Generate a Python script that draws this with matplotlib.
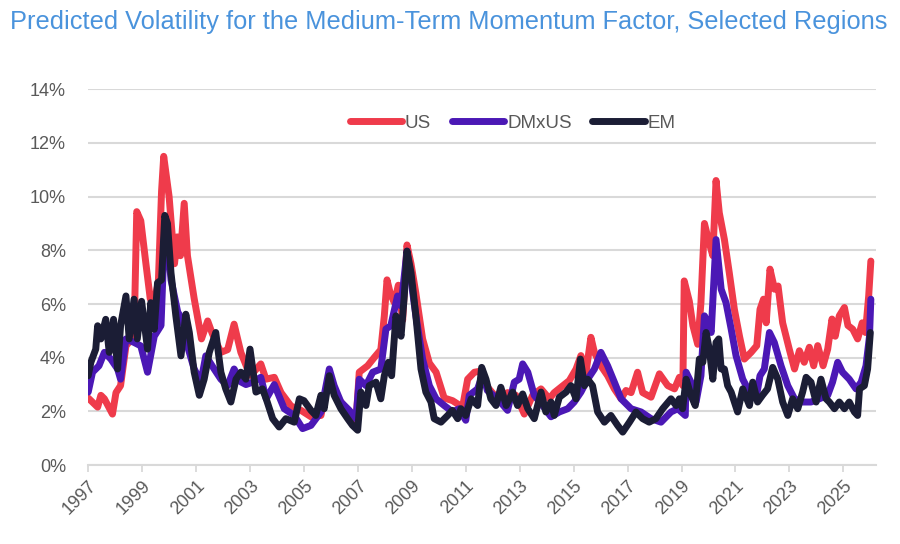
import matplotlib.pyplot as plt
import numpy as np

# US (red)
us_t = [1997.0, 1997.35, 1997.47, 1997.6, 1997.9, 1998.03, 1998.2, 1998.4, 1998.7, 1998.8,
        1998.95, 1999.14, 1999.3, 1999.42, 1999.6, 1999.72, 1999.8, 2000.0, 2000.2, 2000.3,
        2000.42, 2000.56, 2000.68, 2000.93, 2001.2, 2001.43, 2001.6, 2001.92, 2002.17, 2002.41,
        2002.66, 2002.9, 2003.03, 2003.4, 2003.59, 2003.9, 2004.15, 2004.52, 2004.89, 2005.26,
        2005.63, 2005.94, 2006.25, 2006.62, 2006.93, 2007.05, 2007.36, 2007.6, 2007.85, 2007.98,
        2008.08, 2008.2, 2008.35, 2008.5, 2008.66, 2008.82, 2008.97, 2009.15, 2009.4, 2009.65,
        2009.9, 2010.2, 2010.51, 2010.88, 2011.07, 2011.32, 2011.56, 2011.81, 2012.18, 2012.55,
        2012.86, 2013.17, 2013.48, 2013.79, 2014.1, 2014.28, 2014.53, 2014.84, 2015.09, 2015.27,
        2015.46, 2015.64, 2015.77, 2016.01, 2016.26, 2016.51, 2016.76, 2016.94, 2017.13, 2017.37,
        2017.56, 2017.87, 2018.18, 2018.49, 2018.74, 2018.92, 2019.05, 2019.1, 2019.29, 2019.42,
        2019.6, 2019.72, 2019.85, 2020.01, 2020.16, 2020.28, 2020.4, 2020.59, 2020.77, 2020.96,
        2021.15, 2021.33, 2021.58, 2021.79, 2021.91, 2022.04, 2022.14, 2022.28, 2022.45, 2022.58,
        2022.75, 2023.0, 2023.19, 2023.37, 2023.55, 2023.74, 2023.9, 2024.05, 2024.25, 2024.42,
        2024.58, 2024.7, 2024.85, 2025.04, 2025.17, 2025.35, 2025.53, 2025.7, 2025.82, 2025.94,
        2026.02]
us_v = [2.5, 2.16, 2.6, 2.47, 1.9, 2.7, 2.96, 4.44, 4.8, 9.44,
        9.1, 7.5, 6.2, 6.0, 6.8, 10.2, 11.5, 10.0, 7.5, 8.5,
        7.8, 9.75, 7.8, 6.2, 4.7, 5.37, 4.9, 4.2, 4.3, 5.25,
        4.2, 3.6, 3.34, 3.77, 3.2, 3.27, 2.7, 2.2, 2.04, 1.8,
        1.85, 3.3, 2.5, 2.04, 1.6, 3.46, 3.7, 4.0, 4.3, 5.56,
        6.9, 6.4, 6.05, 6.7, 5.4, 8.2, 7.5, 6.4, 4.7, 3.8,
        3.46, 2.5, 2.4, 2.16, 3.2, 3.46, 3.5, 2.9, 2.47, 2.7,
        2.6, 1.9, 2.6, 2.84, 2.47, 2.7, 2.9, 3.15, 3.58, 4.08,
        3.46, 4.76, 4.2, 3.7, 3.33, 2.84, 2.47, 2.78, 2.7, 3.46,
        2.7, 2.53, 3.4, 2.96, 2.84, 3.27, 2.96, 6.86, 6.1, 5.2,
        4.5, 6.05, 9.0, 8.34, 7.8, 10.6, 9.4, 8.4, 7.17, 5.8,
        4.8, 3.95, 4.2, 4.45, 5.8, 6.18, 5.3, 7.3, 6.55, 6.67,
        5.3, 4.3, 3.58, 4.26, 3.83, 4.39, 3.7, 4.45, 3.7, 4.32,
        5.44, 4.8, 5.56, 5.87, 5.2, 5.06, 4.7, 5.3, 4.94, 6.3,
        7.6]

# DMxUS (purple)
dm_t = [1997.0, 1997.16, 1997.4, 1997.6, 1997.84, 1998.09, 1998.2, 1998.4, 1998.7, 1998.95,
        1999.2, 1999.45, 1999.7, 1999.82, 1999.88, 2000.07, 2000.32, 2000.5, 2000.68, 2000.93,
        2001.18, 2001.36, 2001.67, 2001.92, 2002.17, 2002.41, 2002.66, 2002.85, 2003.1, 2003.4,
        2003.6, 2003.9, 2004.27, 2004.64, 2004.95, 2005.26, 2005.63, 2005.94, 2006.12, 2006.37,
        2006.68, 2006.93, 2007.05, 2007.3, 2007.55, 2007.85, 2008.04, 2008.22, 2008.47, 2008.6,
        2008.82, 2008.97, 2009.15, 2009.4, 2009.65, 2009.9, 2010.2, 2010.51, 2010.75, 2011.0,
        2011.13, 2011.44, 2011.63, 2011.8, 2012.18, 2012.55, 2012.8, 2012.98, 2013.11, 2013.3,
        2013.54, 2013.85, 2014.16, 2014.47, 2014.78, 2015.02, 2015.27, 2015.52, 2015.77, 2016.01,
        2016.26, 2016.51, 2016.76, 2017.13, 2017.5, 2017.87, 2018.24, 2018.61, 2018.86, 2019.14,
        2019.17, 2019.35, 2019.54, 2019.72, 2019.85, 2019.98, 2020.1, 2020.28, 2020.47, 2020.65,
        2020.84, 2021.02, 2021.27, 2021.52, 2021.76, 2021.91, 2022.07, 2022.26, 2022.44, 2022.69,
        2022.94, 2023.19, 2023.49, 2023.8, 2024.11, 2024.42, 2024.6, 2024.79, 2024.97, 2025.22,
        2025.47, 2025.66, 2025.84, 2025.97, 2026.02]
dm_v = [2.72, 3.46, 3.7, 4.2, 3.95, 3.58, 3.2, 4.7, 4.57, 4.44,
        3.46, 4.8, 5.2, 8.4, 9.1, 6.9, 5.7, 5.4, 4.44, 3.58,
        3.1, 4.07, 3.58, 3.2, 2.96, 3.58, 3.1, 3.0, 3.09, 3.27,
        2.47, 3.0, 2.1, 1.85, 1.36, 1.48, 1.98, 3.58, 2.96, 2.35,
        2.04, 1.73, 3.2, 2.96, 3.46, 3.58, 5.07, 5.19, 6.3, 5.93,
        7.97, 6.9, 5.56, 3.95, 2.96, 2.47, 2.22, 1.98, 2.1, 1.67,
        2.6, 2.84, 3.4, 2.78, 2.47, 2.04, 3.09, 3.2, 3.77, 3.46,
        2.6, 2.22, 1.8, 1.98, 2.1, 2.35, 2.72, 3.2, 3.58, 4.2,
        3.7, 3.09, 2.47, 2.1, 1.98, 1.73, 1.6, 1.98, 2.1, 1.85,
        3.46, 3.09, 2.35, 3.33, 5.56, 5.3, 4.94, 8.4, 6.55, 6.05,
        5.07, 4.08, 3.2, 2.72, 2.47, 3.33, 3.58, 4.94, 4.57, 3.7,
        2.96, 2.47, 2.35, 2.35, 2.47, 2.6, 3.09, 3.83, 3.46, 3.2,
        2.84, 3.09, 3.7, 4.8, 6.18]

# EM (black)
em_t = [1997.0, 1997.1, 1997.28, 1997.35, 1997.47, 1997.65, 1997.78, 1997.94, 1998.09, 1998.2,
        1998.4, 1998.52, 1998.7, 1998.82, 1998.98, 1999.2, 1999.32, 1999.45, 1999.57, 1999.72,
        1999.84, 1999.94, 2000.07, 2000.25, 2000.44, 2000.62, 2000.75, 2000.93, 2001.12, 2001.3,
        2001.49, 2001.73, 2001.92, 2002.1, 2002.29, 2002.48, 2002.66, 2002.85, 2003.0, 2003.22,
        2003.46, 2003.6, 2003.84, 2004.08, 2004.33, 2004.64, 2004.83, 2005.0, 2005.26, 2005.44,
        2005.63, 2005.75, 2005.94, 2006.12, 2006.37, 2006.62, 2006.8, 2006.99, 2007.11, 2007.3,
        2007.42, 2007.67, 2007.85, 2007.98, 2008.13, 2008.25, 2008.41, 2008.6, 2008.72, 2008.82,
        2008.97, 2009.15, 2009.34, 2009.52, 2009.71, 2009.83, 2010.08, 2010.33, 2010.5, 2010.7,
        2010.82, 2011.0, 2011.2, 2011.44, 2011.59, 2011.75, 2011.93, 2012.12, 2012.3, 2012.5,
        2012.74, 2012.92, 2013.11, 2013.3, 2013.54, 2013.79, 2013.97, 2014.16, 2014.28, 2014.47,
        2014.72, 2014.9, 2015.09, 2015.25, 2015.4, 2015.52, 2015.7, 2015.89, 2016.14, 2016.38,
        2016.63, 2016.82, 2017.07, 2017.31, 2017.56, 2017.8, 2018.05, 2018.3, 2018.61, 2018.8,
        2018.92, 2019.04, 2019.17, 2019.35, 2019.51, 2019.66, 2019.79, 2019.91, 2020.03, 2020.16,
        2020.28, 2020.38, 2020.47, 2020.59, 2020.71, 2020.84, 2021.08, 2021.27, 2021.52, 2021.64,
        2021.82, 2022.0, 2022.19, 2022.38, 2022.57, 2022.75, 2022.94, 2023.12, 2023.31, 2023.49,
        2023.62, 2023.8, 2023.99, 2024.17, 2024.36, 2024.48, 2024.67, 2024.85, 2025.04, 2025.22,
        2025.41, 2025.53, 2025.6, 2025.78, 2025.9, 2026.0]
em_v = [3.33, 3.83, 4.32, 5.19, 4.7, 5.43, 4.2, 5.43, 3.58, 5.19,
        6.3, 4.7, 6.18, 4.7, 6.1, 4.32, 6.05, 5.06, 6.79, 6.9,
        9.3, 9.0, 7.16, 5.56, 4.07, 5.62, 4.94, 3.46, 2.6, 3.2,
        4.2, 4.94, 3.46, 2.84, 2.35, 3.2, 3.46, 3.2, 4.32, 2.72,
        2.84, 2.47, 1.73, 1.42, 1.73, 1.6, 2.47, 2.4, 2.04, 1.85,
        2.6, 2.1, 3.33, 2.6, 2.1, 1.73, 1.48, 1.3, 2.72, 2.22,
        2.96, 3.09, 2.47, 3.33, 3.83, 3.33, 5.56, 4.8, 6.3, 7.97,
        7.17, 5.56, 3.58, 2.72, 2.35, 1.73, 1.6, 1.85, 2.04, 1.73,
        2.1, 1.85, 2.47, 2.22, 3.64, 3.2, 2.47, 2.22, 2.9, 2.22,
        2.72, 2.22, 2.65, 2.1, 1.73, 2.72, 1.98, 2.35, 1.85, 2.53,
        2.72, 2.96, 2.47, 3.95, 2.96, 3.2, 2.96, 1.98, 1.6, 1.85,
        1.48, 1.23, 1.6, 1.98, 1.73, 1.6, 1.73, 2.1, 2.47, 2.22,
        2.47, 2.1, 3.2, 2.6, 2.22, 3.95, 3.83, 4.94, 4.32, 3.2,
        4.57, 4.7, 3.58, 3.58, 2.96, 2.72, 1.98, 2.84, 2.22, 3.09,
        2.35, 2.6, 2.84, 3.64, 3.2, 2.35, 1.85, 2.47, 2.1, 2.72,
        3.27, 3.09, 2.35, 3.2, 2.47, 2.35, 2.1, 2.35, 2.1, 2.35,
        1.98, 1.85, 2.84, 2.96, 3.58, 4.94]

years = list(range(1997, 2026, 2))

plt.rcParams['font.family'] = ['Liberation Sans', 'DejaVu Sans']
fig = plt.figure(figsize=(9, 5.44), dpi=100)
ax = fig.add_axes([0.098, 0.145, 0.875, 0.691])

grid_c = '#d9d9d9'
txt_c = '#595959'

kw = dict(linewidth=5, solid_capstyle='round', solid_joinstyle='round')
ax.plot(us_t, np.array(us_v) / 100, color='#ef3b4b', label='US', **kw)
ax.plot(dm_t, np.array(dm_v) / 100, color='#4b18b5', label='DMxUS', **kw)
ax.plot(em_t, np.array(em_v) / 100, color='#1b1d35', label='EM', **kw)

ax.set_ylim(0, 0.14)
ax.set_xlim(1997, 2026.2)
yt = np.arange(0, 0.141, 0.02)
ax.set_yticks(yt)
ax.set_yticklabels([f'{int(round(v * 100))}%' for v in yt], fontsize=13, color=txt_c)
ax.set_xticks(years)
ax.set_xticklabels([str(y) for y in years], rotation=45, ha='right',
                   rotation_mode='anchor', fontsize=13, color=txt_c)
ax.tick_params(axis='y', length=0, pad=16)
ax.tick_params(axis='x', length=5, width=1.3, color=grid_c, pad=4)
ax.yaxis.grid(True, color=grid_c, linewidth=1.5)
ax.set_axisbelow(True)
for s in ['top', 'right', 'left']:
    ax.spines[s].set_visible(False)
ax.spines['bottom'].set_color(grid_c)
ax.spines['bottom'].set_linewidth(1.5)

leg = ax.legend(loc='center', bbox_to_anchor=(0.539, 0.91), ncol=3, frameon=False,
                fontsize=13.5, handlelength=2.8, handletextpad=0.15, columnspacing=1.1)
for t in leg.get_texts():
    t.set_color(txt_c)

fig.text(0.011, 0.96, 'Predicted Volatility for the Medium-Term Momentum Factor, Selected Regions',
         fontsize=18.3, color='#4a93dc', ha='left', va='center')

fig.savefig('out.png', dpi=100)
